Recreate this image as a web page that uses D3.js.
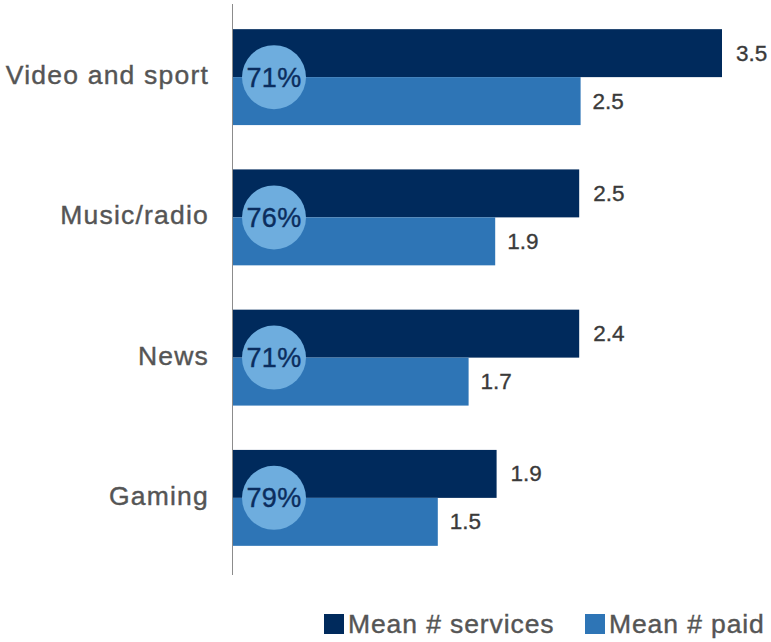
<!DOCTYPE html>
<html><head><meta charset="utf-8">
<script src="https://cdn.jsdelivr.net/npm/d3@7"></script>
<style>body{margin:0;background:#fff}svg{display:block}</style>
</head><body>
<svg id="c" width="771" height="642"></svg>
<script>
const categories = ["Video and sport", "Music/radio", "News", "Gaming"];
const servicesValues = [3.5, 2.48, 2.48, 1.89];
const servicesLabels = ["3.5", "2.5", "2.4", "1.9"];
const paidValues = [2.49, 1.88, 1.69, 1.47];
const paidLabels = ["2.5", "1.9", "1.7", "1.5"];
const shareLabels = ["71%", "76%", "71%", "79%"];
const seriesNames = ["Mean # services", "Mean # paid"];

const colDark = "#002A5C", colLight = "#2E75B6", colCircle = "#6EADDE";
const svg = d3.select("#c");
const font = "'Liberation Sans', Arial, Helvetica, sans-serif";

const x = d3.scaleLinear().domain([0, 3.5]).range([232, 722]);
const y = d3.scaleBand().domain(categories).range([7, 568]).paddingInner(0.316).paddingOuter(0.158);
const sub = d3.scaleBand().domain([0, 1]).range([0, y.bandwidth()]);

const g = svg.selectAll("g.cat").data(categories).join("g").attr("class", "cat")
  .attr("transform", d => `translate(0,${y(d)})`);

g.append("rect").attr("x", x(0)).attr("y", sub(0))
  .attr("width", (d, i) => x(servicesValues[i]) - x(0)).attr("height", sub.bandwidth())
  .attr("fill", colDark);
g.append("rect").attr("x", x(0)).attr("y", sub(1))
  .attr("width", (d, i) => x(paidValues[i]) - x(0)).attr("height", sub.bandwidth())
  .attr("fill", colLight);

function valText(sel) {
  sel.attr("font-family", font).attr("font-size", 22.5).attr("fill", "#3a3a3a")
    .attr("stroke", "#3a3a3a").attr("stroke-width", 0.35);
}
g.append("text").attr("x", (d, i) => x(servicesValues[i]) + 14).attr("y", sub(0) + sub.bandwidth() / 2 + 7.5)
  .text((d, i) => servicesLabels[i]).call(valText);
g.append("text").attr("x", (d, i) => x(paidValues[i]) + 12).attr("y", sub(1) + sub.bandwidth() / 2 + 7.5)
  .text((d, i) => paidLabels[i]).call(valText);

g.append("circle").attr("cx", 274).attr("cy", sub(1)).attr("r", 32).attr("fill", colCircle);
g.append("text").attr("x", 274).attr("y", sub(1) + 9.5).attr("text-anchor", "middle")
  .text((d, i) => shareLabels[i]).attr("font-family", font).attr("font-size", 27)
  .attr("letter-spacing", 0.3)
  .attr("fill", "#0B2D5E").attr("stroke", "#0B2D5E").attr("stroke-width", 0.4);

g.append("text").attr("x", 209).attr("y", y.bandwidth() / 2 + 7).attr("text-anchor", "end")
  .text(d => d).attr("font-family", font).attr("font-size", 26.5).attr("letter-spacing", 1.2)
  .attr("fill", "#555555").attr("stroke", "#555555").attr("stroke-width", 0.4);

svg.append("line").attr("x1", 232.5).attr("x2", 232.5).attr("y1", 4).attr("y2", 575)
  .attr("stroke", "#8c8c8c").attr("stroke-width", 1);

const legendX = [324, 585];
const lg = svg.selectAll("g.leg").data(seriesNames).join("g").attr("class", "leg")
  .attr("transform", (d, i) => `translate(${legendX[i]},614)`);
lg.append("rect").attr("width", 20).attr("height", 20).attr("fill", (d, i) => i ? colLight : colDark);
lg.append("text").attr("x", 24).attr("y", 19).text(d => d)
  .attr("font-family", font).attr("font-size", 26.5).attr("letter-spacing", 0.9)
  .attr("fill", "#555555").attr("stroke", "#555555").attr("stroke-width", 0.4);
</script>
</body></html>
